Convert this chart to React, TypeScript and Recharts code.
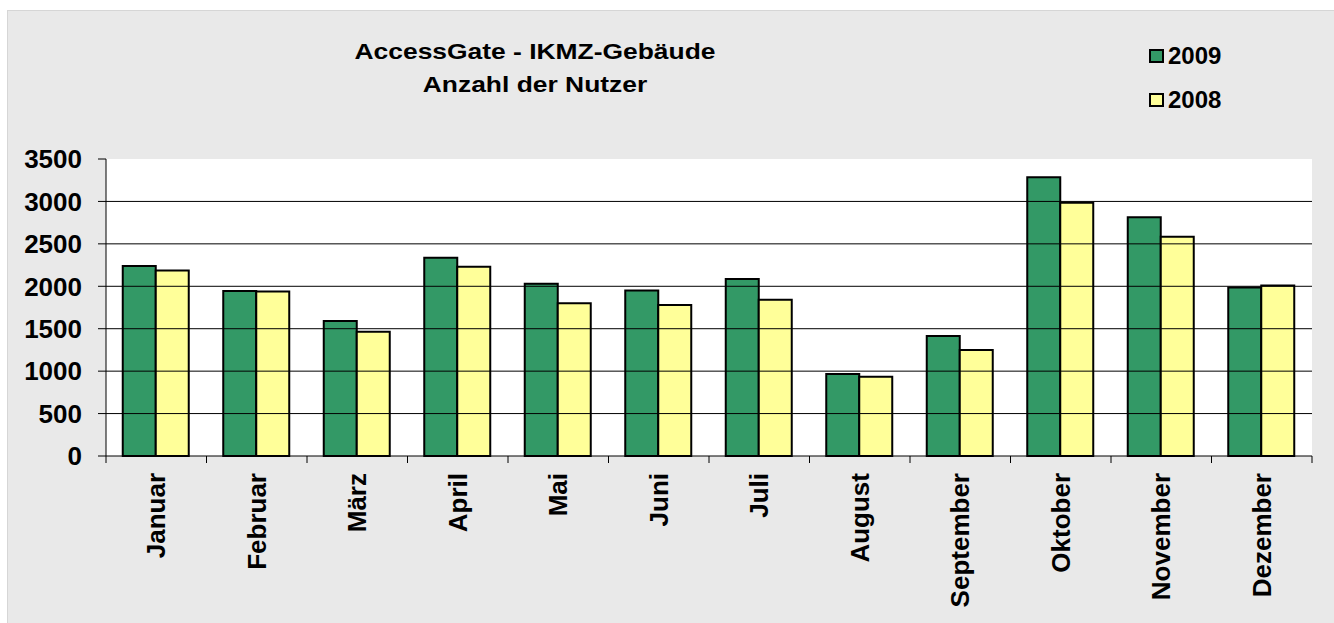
import { Bar, BarChart, CartesianGrid, ReferenceLine, XAxis, YAxis } from "recharts";

const months = [
  "Januar",
  "Februar",
  "März",
  "April",
  "Mai",
  "Juni",
  "Juli",
  "August",
  "September",
  "Oktober",
  "November",
  "Dezember",
];
const users2009 = [2240, 1945, 1590, 2335, 2030, 1950, 2085, 965, 1415, 3285, 2815, 1985];
const users2008 = [2185, 1940, 1465, 2230, 1800, 1780, 1840, 935, 1250, 2985, 2585, 2010];
const yTicks = [0, 500, 1000, 1500, 2000, 2500, 3000, 3500];
const gridValues = [500, 1000, 1500, 2000, 2500, 3000];
const legendItems = [
  { label: "2009", color: "#339966" },
  { label: "2008", color: "#FFFF99" },
];

const data = months.map((month, i) => ({
  month,
  y2009: users2009[i],
  y2008: users2008[i],
}));

const FONT = '"Liberation Sans", Arial, sans-serif';
const W = 1326;
const H = 612;
const MARGIN = { top: 148, right: 22, bottom: 0, left: 0 };
const Y_AXIS_W = 98;
const X_AXIS_H = 167;
const band = (W - MARGIN.left - MARGIN.right - Y_AXIS_W) / months.length;

const MonthTick = (props: any) => {
  const { x, y, payload, index } = props;
  const last = index === months.length - 1;
  return (
    <g transform={`translate(${x},${y})`}>
      <line x1={-band / 2} y1={0} x2={-band / 2} y2={7} stroke="#000" />
      {last && <line x1={band / 2} y1={0} x2={band / 2} y2={7} stroke="#000" />}
      <text
        transform="rotate(-90)"
        x={-17}
        y={9}
        textAnchor="end"
        fontFamily={FONT}
        fontWeight="bold"
        fontSize={26}
        fill="#000">
        {payload.value}
      </text>
    </g>
  );
};

export default function App() {
  return (
    <div
      style={{
        position: "absolute",
        left: 7,
        top: 10,
        width: W + 1,
        height: H + 1,
        boxSizing: "border-box",
        background: "#e9e9e9",
        borderTop: "1px solid #d6d6d6",
        borderLeft: "1px solid #d6d6d6",
      }}>
      <div
        style={{
          position: "absolute",
          left: 227,
          top: 24,
          width: 600,
          textAlign: "center",
          fontFamily: FONT,
          fontWeight: "bold",
          fontSize: 22,
          lineHeight: "33px",
          color: "#000",
          transform: "scaleX(1.2)",
        }}>
        AccessGate - IKMZ-Gebäude
        <br />
        Anzahl der Nutzer
      </div>
      <div style={{ position: "absolute", left: 1141, top: 23 }}>
        {legendItems.map((it) => (
          <div
            key={it.label}
            style={{
              display: "flex",
              alignItems: "center",
              height: 44,
              fontFamily: FONT,
              fontWeight: "bold",
              fontSize: 24,
            }}>
            <span
              style={{
                display: "inline-block",
                width: 11,
                height: 10,
                background: it.color,
                border: "2px solid #000",
                marginRight: 4,
              }}
            />
            {it.label}
          </div>
        ))}
      </div>
      <BarChart
        width={W}
        height={H}
        data={data}
        margin={MARGIN}
        barCategoryGap="16.67%"
        barGap={0}>
        <CartesianGrid vertical={false} horizontal={false} fill="#fff" />
        {gridValues.map((v) => (
          <ReferenceLine key={v} y={v} stroke="#000" />
        ))}
        <XAxis
          dataKey="month"
          height={X_AXIS_H}
          axisLine={{ stroke: "#000" }}
          tickLine={false}
          tickSize={0}
          tickMargin={0}
          interval={0}
          tick={<MonthTick />}
        />
        <YAxis
          width={Y_AXIS_W}
          domain={[0, 3500]}
          ticks={yTicks}
          interval={0}
          axisLine={{ stroke: "#000" }}
          tickLine={{ stroke: "#000" }}
          tickSize={8}
          tickMargin={16}
          tick={{ fill: "#000", fontFamily: FONT, fontWeight: "bold", fontSize: 26 }}
        />
        <Bar dataKey="y2009" name="2009" fill="#339966" stroke="#000" strokeWidth={2} isAnimationActive={false} />
        <Bar dataKey="y2008" name="2008" fill="#FFFF99" stroke="#000" strokeWidth={2} isAnimationActive={false} />
      </BarChart>
    </div>
  );
}
